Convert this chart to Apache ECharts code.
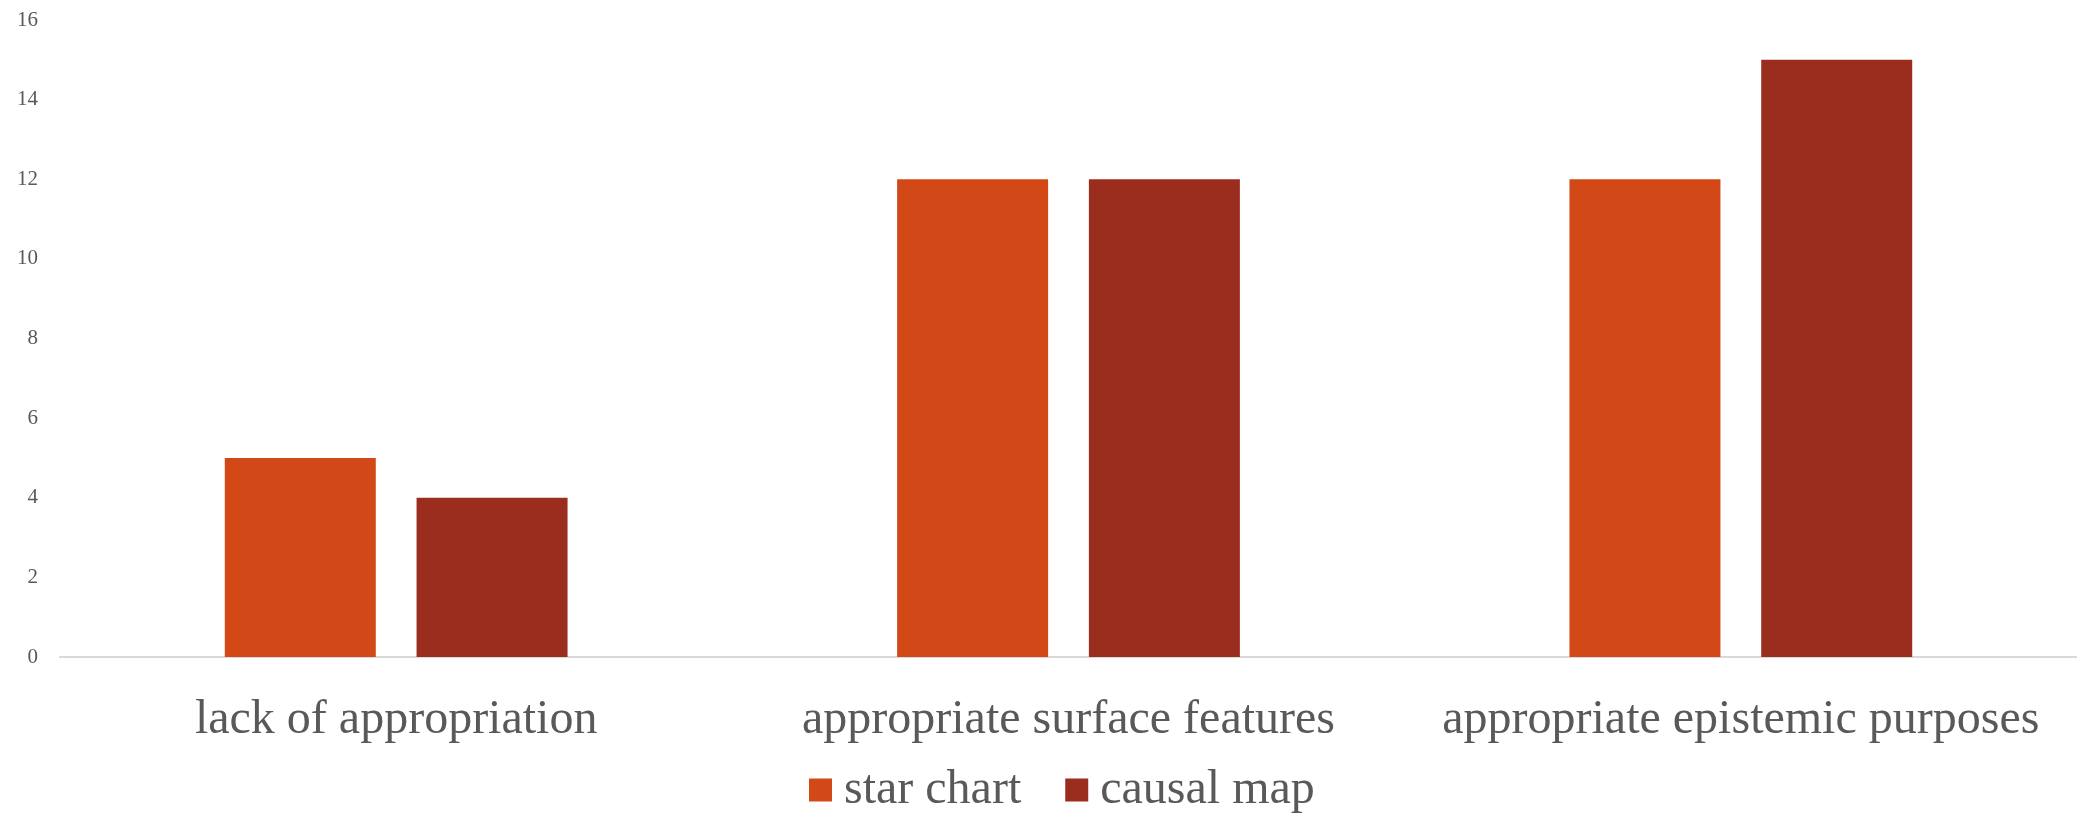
<!DOCTYPE html>
<html>
<head>
<meta charset="utf-8">
<script src="https://cdn.jsdelivr.net/npm/echarts@6/dist/echarts.min.js"></script>
<style>
  html, body { margin: 0; padding: 0; background: #fff; }
  #chart { width: 2077px; height: 816px; }
</style>
</head>
<body>
<div id="chart"></div>
<script>
// categories + values
var categories = ['lack of appropriation', 'appropriate surface features', 'appropriate epistemic purposes'];
var starChart = [5, 12, 12];
var causalMap = [4, 12, 15];
var yTicks = { min: 0, max: 16, step: 2 };

var myChart = echarts.init(document.getElementById('chart'));
var font = '"Liberation Serif", "Times New Roman", serif';
var grey = '#595959';

myChart.setOption({
    animation: false,
    textStyle: { fontFamily: font },
    grid: {
        left: 60,
        right: 0,
        top: 20,
        bottom: 159
    },
    legend: {
        left: 804,
        top: 761,
        itemWidth: 23,
        itemHeight: 23,
        itemGap: 44,
        icon: 'rect',
        textStyle: {
            fontFamily: font,
            fontSize: 48,
            color: grey,
            padding: [0, 0, 0, 7]
        },
        data: ['star chart', 'causal map']
    },
    xAxis: {
        type: 'category',
        data: categories,
        axisLine: { lineStyle: { color: '#d9d9d9', width: 2 } },
        axisTick: { show: false },
        axisLabel: {
            interval: 0,
            fontFamily: font,
            fontSize: 48,
            color: grey,
            margin: 39
        }
    },
    yAxis: {
        type: 'value',
        min: yTicks.min,
        max: yTicks.max,
        interval: yTicks.step,
        splitLine: { show: false },
        axisLine: { show: false },
        axisTick: { show: false },
        axisLabel: {
            fontFamily: font,
            fontSize: 21,
            color: grey,
            margin: 22
        }
    },
    series: [
        {
            name: 'star chart',
            type: 'bar',
            data: starChart,
            barWidth: 151,
            barGap: '27%',
            itemStyle: { color: '#D34817' }
        },
        {
            name: 'causal map',
            type: 'bar',
            data: causalMap,
            barWidth: 151,
            itemStyle: { color: '#9B2D1F' }
        }
    ]
});
</script>
</body>
</html>
